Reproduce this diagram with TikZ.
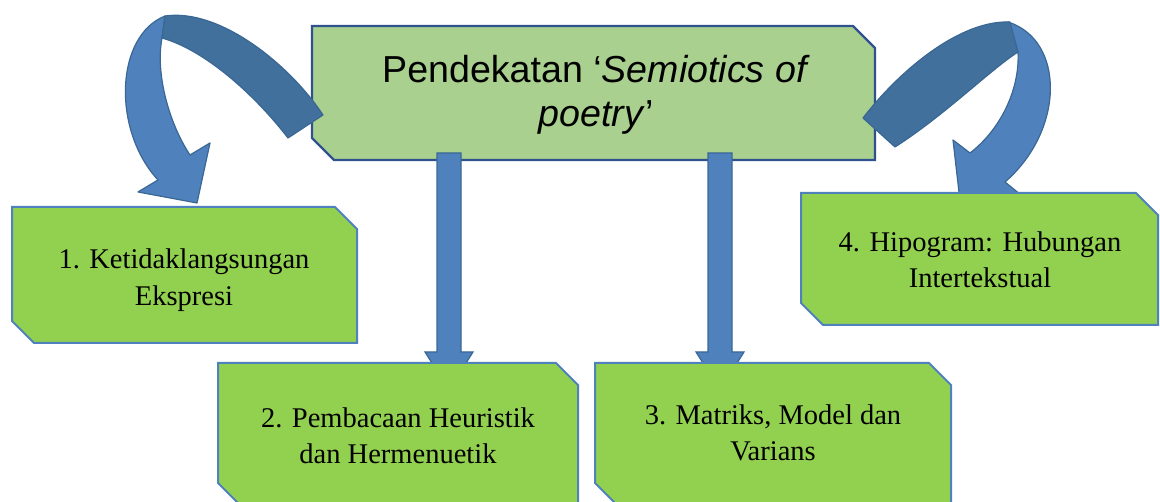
\documentclass[tikz,border=0pt]{standalone}
\usepackage{fontspec}
\setmainfont{Liberation Serif}
\newfontfamily\arialf{Liberation Sans}
\usetikzlibrary{calc}
\definecolor{cfill}{HTML}{A9D08E}
\definecolor{cborder}{HTML}{2F528F}
\definecolor{gfill}{HTML}{92D050}
\definecolor{gborder}{HTML}{4F81BD}
\definecolor{alight}{HTML}{4F81BD}
\definecolor{adark}{HTML}{41709C}
\definecolor{aborder}{HTML}{3A6794}
\newcommand\snipbox[6]{%
  \draw[#1] (#3,#4) -- ({#5-22},#4) -- (#5,{#4+22}) -- (#5,#6) -- ({#3+22},#6) -- (#3,{#6-22}) -- cycle;
  \coordinate (#2) at ({(#3+#5)/2},{(#4+#6)/2});}
\begin{document}
\begin{tikzpicture}[x=1pt,y=-1pt,
  centralbox/.style={fill=cfill,draw=cborder,line width=2.4pt,line join=miter},
  greenbox/.style={fill=gfill,draw=gborder,line width=2pt,line join=miter},
  lightarrow/.style={fill=alight,draw=aborder,line width=1.2pt,line join=round},
  darkarrow/.style={fill=adark,draw=aborder,line width=1.2pt,line join=round},
  boxtext/.style={align=center,inner sep=0pt,font=\fontsize{28.5}{36.5}\selectfont},
  maintext/.style={align=center,inner sep=0pt,font=\arialf\fontsize{37.6}{44}\selectfont}]
\useasboundingbox (0,0) rectangle (1160,502);

% central box
\snipbox{centralbox}{c}{312}{26}{875}{160}

% curved arrow left
\path[lightarrow] (165,16) .. controls (115,36) and (112,130) .. (158,180) -- (138,192) -- (197,203) -- (210,143) -- (190,155) .. controls (170,125) and (155,75) .. (162,38) -- cycle;
\path[darkarrow] (323,115) .. controls (290,65) and (220,8) .. (165,16) -- (162,38) .. controls (205,50) and (255,95) .. (288,138) -- cycle;

% curved arrow right
\path[lightarrow] (1008,22) .. controls (1065,40) and (1065,130) .. (1005,182) -- (1021,195) -- (960,201) -- (953,140) -- (970,153) .. controls (1000,130) and (1020,90) .. (1018,52) -- cycle;
\path[darkarrow] (863,118) .. controls (900,70) and (960,20) .. (1010,22) -- (1018,52) .. controls (990,70) and (945,115) .. (895,147) -- cycle;

% straight arrows
\coordinate (a2s) at (449,153);
\coordinate (a2e) at (449,390);
\coordinate (a3s) at (720,153);
\coordinate (a3e) at (720,390);
\foreach \s/\e in {a2s/a2e,a3s/a3e}{
  \path[lightarrow,line join=miter] ($(\s)+(-12,0)$) -- ($(\s)+(12,0)$) -- ($(\e)+(12,-38)$) -- ($(\e)+(24,-38)$) -- (\e) -- ($(\e)+(-24,-38)$) -- ($(\e)+(-12,-38)$) -- cycle;
}

% lower boxes
\snipbox{greenbox}{b1}{12}{207}{357}{343}
\snipbox{greenbox}{b2}{218}{363}{578}{505}
\snipbox{greenbox}{b3}{595}{363}{951}{505}
\snipbox{greenbox}{b4}{801}{193}{1158}{325}

% texts
\node[maintext] (tc) at (596,95) {Pendekatan ‘\textit{Semiotics of}\\\textit{poetry}’};
\node[boxtext] (t1) at (184,280) {1. Ketidaklangsungan\\Ekspresi};
\node[boxtext] (t2) at (398,436) {2. Pembacaan Heuristik\\dan Hermenuetik};
\node[boxtext] (t3) at (773,433) {3. Matriks, Model dan\\Varians};
\node[boxtext] (t4) at (980,260) {4. Hipogram: Hubungan\\Intertekstual};
\end{tikzpicture}
\end{document}
